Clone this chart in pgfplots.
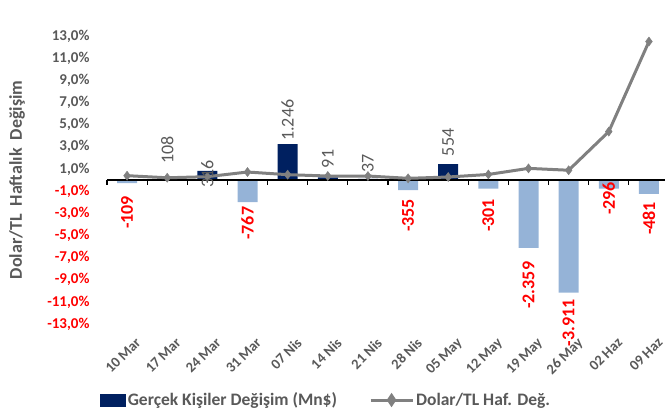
\documentclass[border=0pt]{standalone}
\usepackage{pgfplots}
\pgfplotsset{compat=1.18}
\usepackage{fontspec}
\setmainfont{Carlito}

\definecolor{navy}{HTML}{002060}
\definecolor{lblue}{HTML}{95B3D7}
\definecolor{lgray}{HTML}{808080}
\definecolor{tgray}{HTML}{595959}
\newcommand{\cf}{\fontsize{15}{18}\selectfont}
\newcommand{\lf}{\fontsize{18}{21}\selectfont}

\begin{document}
\begin{tikzpicture}[font=\cf]
\pgfplotsset{every axis/.append style={scale only axis, width=558pt, height=288pt,
  xmin=-0.5, xmax=13.4, clip=false}}

% bars: net change of real persons (Mn$), hidden right scale
\begin{axis}[
  ymin=-5000, ymax=5000,
  hide axis,
]
  \addplot[ybar, bar width=20pt, bar shift=0pt, fill=navy, draw=none]
    coordinates {(1,108) (2,316) (4,1246) (5,91) (6,37) (8,554)};
  \addplot[ybar, bar width=20pt, bar shift=0pt, fill=lblue, draw=none]
    coordinates {(0,-109) (3,-767) (7,-355) (9,-301) (10,-2359) (11,-3911) (12,-296) (13,-481)};
\end{axis}

% line: weekly USD/TRY change (%)
\begin{axis}[
  ymin=-13, ymax=13,
  axis x line*=bottom, x axis line style={draw=none},
  major x tick style={draw=none},
  xtick={0,...,13},
  xticklabels={10 Mar,17 Mar,24 Mar,31 Mar,07 Nis,14 Nis,21 Nis,28 Nis,05 May,12 May,19 May,26 May,02 Haz,09 Haz},
  xticklabel style={rotate=45, anchor=north east, font=\fontsize{14.5}{17}\selectfont\bfseries,
    text=tgray, yshift=-11pt, xshift=0pt},
  axis y line*=left, y axis line style={draw=none},
  major y tick style={draw=none},
  ytick={-13,-11,...,13},
  yticklabels={{\textcolor{red}{-13,0\%}},{\textcolor{red}{-11,0\%}},{\textcolor{red}{-9,0\%}},
    {\textcolor{red}{-7,0\%}},{\textcolor{red}{-5,0\%}},{\textcolor{red}{-3,0\%}},{\textcolor{red}{-1,0\%}},
    {1,0\%},{3,0\%},{5,0\%},{7,0\%},{9,0\%},{11,0\%},{13,0\%}},
  yticklabel style={font=\cf\bfseries, text=tgray, xshift=-14pt},
  ylabel={Dolar/TL\ \ Haftalık\ \ Değişim},
  ylabel style={at={(axis description cs:-0.161,0.5)}, anchor=center,
    font=\fontsize{18}{21}\selectfont\bfseries, text=tgray},
  legend columns=2,
  legend style={at={(axis description cs:0.393,-0.264)}, anchor=center, draw=none,
    font=\fontsize{17.5}{20}\selectfont\bfseries, text=tgray,
    /tikz/every even column/.append style={column sep=30pt}},
]
  % category axis crossing at zero, with ticks between the weeks
  \draw[color=black, line width=1.1pt] (axis cs:-0.5,0) -- (axis cs:13.4,0);
  \pgfplotsinvokeforeach{-0.5,0.5,...,12.5}{
    \draw[color=black, line width=1.1pt] (axis cs:#1,0) -- (axis cs:#1,-0.45);
  }

  \addlegendimage{legend image code/.code={\fill[navy] (0pt,-6pt) rectangle (25pt,6pt);}}
  \addlegendentry{Gerçek Kişiler Değişim (Mn\$)}

  \addplot[color=lgray, line width=3pt, mark=diamond*, mark size=4.5pt,
    mark options={fill=lgray, draw=lgray, line width=0.5pt},
    legend image code/.code={\draw[lgray, line width=3pt] (0pt,0pt) -- (42pt,0pt);
      \fill[lgray] (21pt,4.5pt) -- (24pt,0pt) -- (21pt,-4.5pt) -- (18pt,0pt) -- cycle;}]
    coordinates {(0,0.39) (1,0.2) (2,0.3) (3,0.72) (4,0.48) (5,0.36) (6,0.36)
      (7,0.15) (8,0.27) (9,0.5) (10,1.05) (11,0.88) (12,4.37) (13,12.5)};
  \addlegendentry{Dolar/TL Haf. Değ.}

  % data labels of the bars
  \addplot[draw=none, mark=none, forget plot, nodes near coords, point meta=explicit symbolic,
    nodes near coords style={rotate=90, anchor=center, text=tgray, font=\lf}]
    table[meta=lab] {
x y lab
1 2.7 108
2 0.54 316
4 5.4 1.246
5 1.9 91
6 1.53 37
8 3.4 554
};
  \addplot[draw=none, mark=none, forget plot, nodes near coords, point meta=explicit symbolic,
    nodes near coords style={rotate=90, anchor=center, text=red, font=\lf\bfseries}]
    table[meta=lab] {
x y lab
0 -2.93 -109
3 -3.9 -767
7 -3.2 -355
9 -3.2 -301
10 -9.5 -2.359
11 -12.9 -3.911
12 -1.67 -296
13 -3.47 -481
};
\end{axis}

\pgfresetboundingbox
\path[use as bounding box] (-107pt,-93pt) rectangle (558pt,324pt);
\end{tikzpicture}
\end{document}
